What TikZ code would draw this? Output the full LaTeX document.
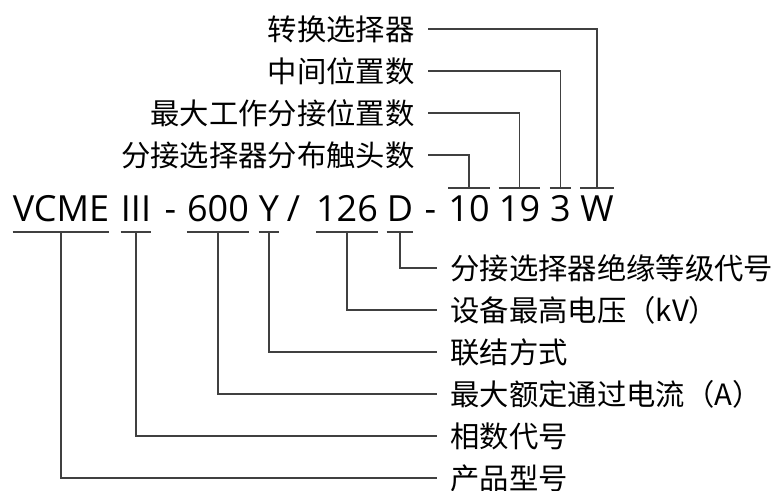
\documentclass[tikz,border=0pt]{standalone}
\usepackage{fontspec}
\setmainfont{Open Sans}
\newfontfamily\cjk{Noto Sans CJK SC}
\usetikzlibrary{positioning}

\begin{document}
\begin{tikzpicture}[x=0.75pt, y=-0.75pt,
    code/.style={font=\fontsize{27}{30}\selectfont, inner sep=0pt, anchor=base},
    label/.style={font=\cjk\fontsize{22}{26}\selectfont, inner xsep=10pt, inner ysep=0pt},
    lead/.style={black!75, line width=0.9pt}]
\useasboundingbox (0,0) rectangle (782,491);

% Bar lines
\coordinate (hi) at (0,188);
\coordinate (lo) at (0,232);

% Separators
\node[code] (dashA) at (170.5,222) {-};
\node[code] (slash) at (293.5,222) {/};
\node[code] (dashB) at (430.5,222) {-};

% Codes explained below
\foreach \x/\name/\txt/\y/\lbl in {61/vcme/VCME/478/产品型号, 136/phase/III/436/相数代号, 218/amp/600/394/最大额定通过电流（A）, 269/conn/Y/352/联结方式, 347/volt/126/310/设备最高电压（kV）, 400/insul/D/268/分接选择器绝缘等级代号} {
    \node[code] (\name) at (\x,222) {\txt};
    \node[label, anchor=west] (l-\name) at (437,\y) {\lbl};
    \draw[lead] (\name.west |- lo) -- (\name.east |- lo);
    \draw[lead] (\name.base |- lo) |- (l-\name.west);
}

% Codes explained above
\foreach \x/\name/\txt/\y/\lbl in {469/contacts/10/155/分接选择器分布触头数, 519.5/positions/19/113/最大工作分接位置数, 560.5/middle/3/71/中间位置数, 597/changeover/W/29/转换选择器} {
    \node[code] (\name) at (\x,222) {\txt};
    \node[label, anchor=east] (l-\name) at (428,\y) {\lbl};
    \draw[lead] (\name.west |- hi) -- (\name.east |- hi);
    \draw[lead] (\name.base |- hi) |- (l-\name.east);
}

\end{tikzpicture}
\end{document}
